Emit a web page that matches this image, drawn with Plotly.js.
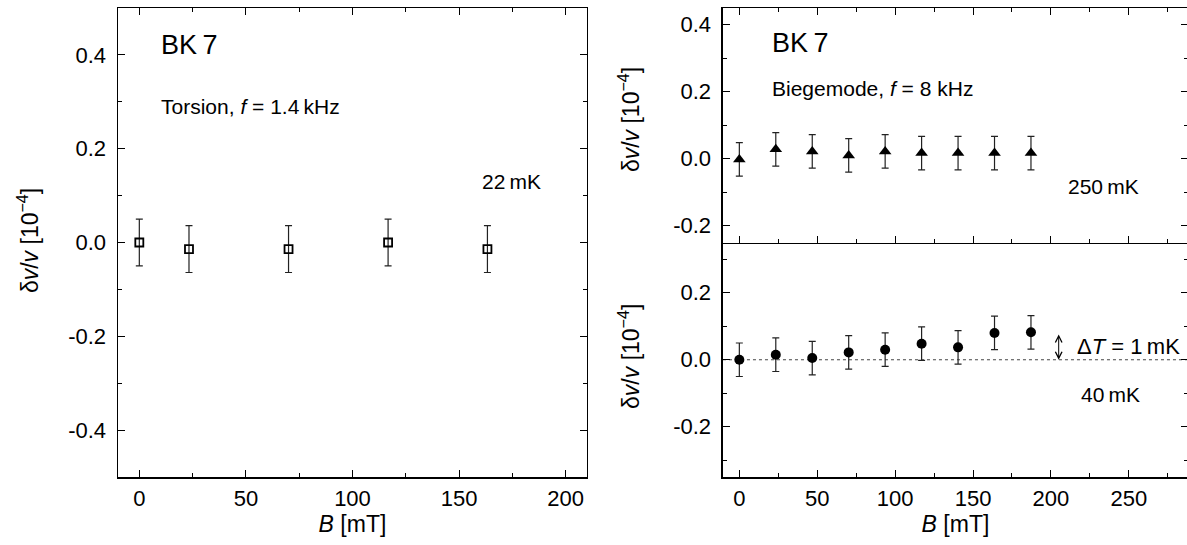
<!DOCTYPE html>
<html>
<head>
<meta charset="utf-8">
<script src="https://cdn.plot.ly/plotly-3.0.1.min.js"></script>
<style>
html,body{margin:0;padding:0;overflow:hidden;background:#fff;}
#plot{width:1189px;height:545px;}
</style>
</head>
<body>
<div id="plot"></div>
<script>
// ---- data ----
const xTorsion = [0, 23.3, 70, 116.7, 163.3];
const yTorsion = [0.0, -0.014, -0.014, 0.0, -0.014];
const eTorsion = [0.05, 0.05, 0.05, 0.05, 0.05];

const xBiege = [0, 23.4, 46.8, 70.2, 93.6, 117, 140.4, 163.8, 187.2];
const y250mK = [-0.002, 0.028, 0.022, 0.01, 0.022, 0.017, 0.017, 0.017, 0.017];
const e250mK = [0.05, 0.05, 0.05, 0.05, 0.05, 0.05, 0.05, 0.05, 0.05];
const y40mK = [0.0, 0.015, 0.005, 0.022, 0.03, 0.048, 0.037, 0.08, 0.082];
const e40mK = [0.05, 0.05, 0.05, 0.05, 0.05, 0.05, 0.05, 0.05, 0.05];

const xTicksLeft = [0, 50, 100, 150, 200];
const xTicksRight = [0, 50, 100, 150, 200, 250];
const yTickVals = [-0.4, -0.2, 0, 0.2, 0.4];
const yTickText = ['-0.4', '-0.2', '0.0', '0.2', '0.4'];

// ---- style ----
const FONT = 'Liberation Sans, Arial, Helvetica, sans-serif';
const TICKF = {family: FONT, size: 22, color: '#000'};
const errStyle = {type: 'data', visible: true, thickness: 1.2, width: 3.5, color: '#222'};

const traces = [
  {x: xTorsion, y: yTorsion, xaxis: 'x', yaxis: 'y', mode: 'markers', type: 'scatter',
   error_y: Object.assign({array: eTorsion}, errStyle),
   marker: {symbol: 'square-open', size: 8, color: '#000', line: {width: 1.8, color: '#000'}}},
  {x: xBiege, y: y250mK, xaxis: 'x2', yaxis: 'y2', mode: 'markers', type: 'scatter',
   error_y: Object.assign({array: e250mK}, errStyle),
   marker: {symbol: 'triangle-up', size: 11, color: '#000'}},
  {x: xBiege, y: y40mK, xaxis: 'x3', yaxis: 'y3', mode: 'markers', type: 'scatter',
   error_y: Object.assign({array: e40mK}, errStyle),
   marker: {symbol: 'circle', size: 10, color: '#000'}}
];

function xax(extra) {
  return Object.assign({
    showline: true, linecolor: '#000', linewidth: 1.5, mirror: 'ticks',
    ticks: 'inside', ticklen: 7, tickwidth: 1, tickcolor: '#000',
    showgrid: false, zeroline: false, tickfont: TICKF, ticklabelstandoff: 1,
    minor: {dtick: 25, ticks: 'inside', ticklen: 4, tickwidth: 1, tickcolor: '#000', showgrid: false}
  }, extra);
}
function yax(extra) {
  return Object.assign({
    showline: true, linecolor: '#000', linewidth: 1.5, mirror: 'ticks',
    ticks: 'inside', ticklen: 7, tickwidth: 1, tickcolor: '#000',
    showgrid: false, zeroline: false, tickfont: TICKF, ticklabelstandoff: 6,
    tickmode: 'array', tickvals: yTickVals, ticktext: yTickText,
    minor: {dtick: 0.1, tick0: 0, ticks: 'inside', ticklen: 4, tickwidth: 1, tickcolor: '#000', showgrid: false}
  }, extra);
}

const dL = [0, 0.4383];
const dR = [0.5654, 1];
const xTitle = {text: '<i>B</i> [mT]', font: {family: FONT, size: 23, color: '#000'}, standoff: 4};

const layout = {
  width: 1189, height: 545,
  margin: {l: 118, r: 1, t: 8, b: 68},
  paper_bgcolor: '#fff', plot_bgcolor: '#fff',
  showlegend: false,
  font: {family: FONT, color: '#000'},
  xaxis: xax({domain: dL, anchor: 'y', range: [-10, 210], tickvals: xTicksLeft, title: xTitle}),
  yaxis: yax({domain: [0, 1], anchor: 'x', range: [-0.5, 0.5]}),
  xaxis2: xax({domain: dR, anchor: 'y2', range: [-10.5, 288], tickvals: xTicksRight, showticklabels: false}),
  yaxis2: yax({domain: [0.5, 1], anchor: 'x2', range: [-0.25, 0.45]}),
  xaxis3: xax({domain: dR, anchor: 'y3', range: [-10.5, 288], tickvals: xTicksRight, mirror: false, title: xTitle}),
  yaxis3: yax({domain: [0, 0.5], anchor: 'x3', range: [-0.35, 0.35]}),
  shapes: [
    {type: 'line', xref: 'x3 domain', yref: 'y3', x0: 0, x1: 1, y0: 0, y1: 0,
     line: {color: '#444', width: 1, dash: 'dot'}, layer: 'below'}
  ],
  annotations: [
    {xref: 'paper', yref: 'paper', x: -0.0841, y: 0.503, textangle: -90, showarrow: false,
     xanchor: 'center', yanchor: 'middle',
     text: 'δ<i>v</i>/<i>v</i> [10<sup>−4</sup>]', font: {family: FONT, size: 23}},
    {xref: 'paper', yref: 'paper', x: 0.4776, y: 0.761, textangle: -90, showarrow: false,
     xanchor: 'center', yanchor: 'middle',
     text: 'δ<i>v</i>/<i>v</i> [10<sup>−4</sup>]', font: {family: FONT, size: 23}},
    {xref: 'paper', yref: 'paper', x: 0.4776, y: 0.256, textangle: -90, showarrow: false,
     xanchor: 'center', yanchor: 'middle',
     text: 'δ<i>v</i>/<i>v</i> [10<sup>−4</sup>]', font: {family: FONT, size: 23}},

    {xref: 'x', yref: 'y', x: 9.2, y: 0.421, showarrow: false, xanchor: 'left', yanchor: 'middle',
     text: 'BK\u20097', font: {family: FONT, size: 27}},
    {xref: 'x', yref: 'y', x: 9.2, y: 0.291, showarrow: false, xanchor: 'left', yanchor: 'middle',
     text: 'Torsion, <i>f</i> = 1.4\u2009kHz', font: {family: FONT, size: 21}},
    {xref: 'x', yref: 'y', x: 159.8, y: 0.13, showarrow: false, xanchor: 'left', yanchor: 'middle',
     text: '22\u2009mK', font: {family: FONT, size: 21}},

    {xref: 'x2', yref: 'y2', x: 19.7, y: 0.345, showarrow: false, xanchor: 'left', yanchor: 'middle',
     text: 'BK\u20097', font: {family: FONT, size: 27}},
    {xref: 'x2', yref: 'y2', x: 19.7, y: 0.2105, showarrow: false, xanchor: 'left', yanchor: 'middle',
     text: 'Biegemode, <i>f</i> = 8 kHz', font: {family: FONT, size: 21}},
    {xref: 'x2', yref: 'y2', x: 209.4, y: -0.083, showarrow: false, xanchor: 'left', yanchor: 'middle',
     text: '250\u2009mK', font: {family: FONT, size: 21}},

    {xref: 'x3', yref: 'y3', x: 215.4, y: 0.041, showarrow: false, xanchor: 'left', yanchor: 'middle',
     text: 'Δ<i>T</i> = 1\u2009mK', font: {family: FONT, size: 22}},
    {xref: 'x3', yref: 'y3', x: 217.9, y: -0.105, showarrow: false, xanchor: 'left', yanchor: 'middle',
     text: '40\u2009mK', font: {family: FONT, size: 21}},
    {xref: 'x3', yref: 'y3', axref: 'x3', ayref: 'y3', x: 205, y: 0.0, ax: 205, ay: 0.08,
     showarrow: true, text: '', arrowhead: 5, startarrowhead: 5, arrowside: 'end+start',
     arrowsize: 1.3, startarrowsize: 1.3, arrowwidth: 1, arrowcolor: '#000', standoff: 0, startstandoff: 0}
  ]
};

Plotly.newPlot('plot', traces, layout, {staticPlot: true, displayModeBar: false});
</script>
</body>
</html>
